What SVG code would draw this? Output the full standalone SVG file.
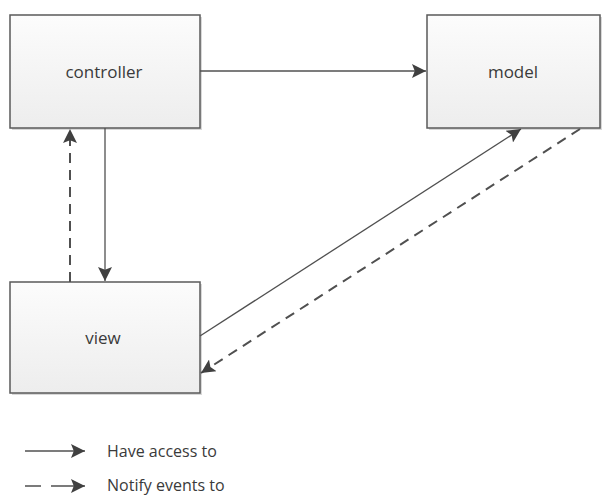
<svg xmlns="http://www.w3.org/2000/svg" width="612" height="496" viewBox="0 0 612 496">
<style>
.box{fill:url(#g);stroke:#5a5a5a;stroke-width:1.5}
.sh{fill:#d8d8d8}
.lbl{font-family:"Open Sans","Liberation Sans",sans-serif;font-size:17px;fill:#3a3a3a;text-anchor:middle;dominant-baseline:central}
.leg{font-family:"Open Sans","Liberation Sans",sans-serif;font-size:16px;fill:#3a3a3a;dominant-baseline:central}
.c{stroke:#505050;stroke-width:1.3;fill:none}
.d{stroke-dasharray:10,7;stroke-width:2}
</style>
<defs>
<linearGradient id="g" x1="0" y1="0" x2="0" y2="1"><stop offset="0" stop-color="#fcfcfc"/><stop offset="1" stop-color="#ededed"/></linearGradient>
<marker id="a" viewBox="0 0 10 10" refX="10" refY="5" markerWidth="20" markerHeight="14" markerUnits="userSpaceOnUse" orient="auto"><path d="M0,0 L10,5 L0,10 L2,5 Z" fill="#404040"/></marker>
</defs>
<g id="controller"><rect class="sh" x="12" y="17" width="190" height="113"/><rect class="box" x="10" y="15" width="190" height="113"/><text class="lbl" x="104" y="71">controller</text></g>
<g id="model"><rect class="sh" x="429" y="17" width="173" height="113"/><rect class="box" x="427" y="15" width="173" height="113"/><text class="lbl" x="513" y="71">model</text></g>
<g id="view"><rect class="sh" x="12" y="284" width="190" height="111"/><rect class="box" x="10" y="282" width="190" height="111"/><text class="lbl" x="103" y="337">view</text></g>
<g id="connectors">
<line class="c" x1="200" y1="71" x2="426" y2="71" marker-end="url(#a)"/>
<line class="c" x1="105" y1="128" x2="105" y2="281" marker-end="url(#a)"/>
<line class="c d" x1="70" y1="282" x2="70" y2="129" marker-end="url(#a)"/>
<line class="c" x1="200" y1="336" x2="521" y2="129" marker-end="url(#a)"/>
<line class="c d" x1="580" y1="129" x2="201" y2="373" marker-end="url(#a)"/>
</g>
<g id="legend">
<line class="c" x1="25" y1="451" x2="85" y2="451" marker-end="url(#a)"/>
<text class="leg" x="107" y="451">Have access to</text>
<line class="c" x1="25" y1="486" x2="85" y2="486" stroke-dasharray="16,10,40" stroke-width="1.6" marker-end="url(#a)"/>
<text class="leg" x="107" y="485">Notify events to</text>
</g>
</svg>
